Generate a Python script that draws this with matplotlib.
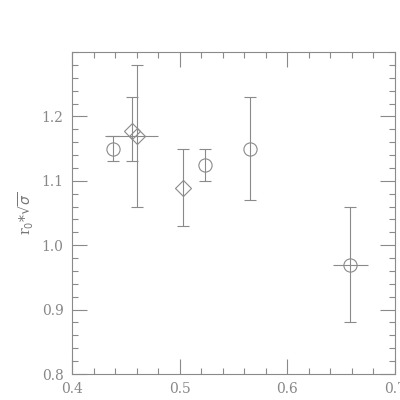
import matplotlib
matplotlib.use("Agg")
import matplotlib.pyplot as plt
from matplotlib.ticker import MultipleLocator

# circles
c_x = [0.438, 0.5235, 0.5655, 0.658]
c_y = [1.15, 1.125, 1.15, 0.97]
c_ylo = [1.13, 1.10, 1.07, 0.88]
c_yhi = [1.17, 1.15, 1.23, 1.06]
c_xlo = [0.438, 0.5235, 0.5655, 0.642]
c_xhi = [0.438, 0.5235, 0.5655, 0.675]

# diamonds
d_x = [0.4555, 0.460, 0.503]
d_y = [1.178, 1.17, 1.089]
d_ylo = [1.13, 1.06, 1.03]
d_yhi = [1.23, 1.28, 1.15]
d_xlo = [0.4555, 0.431, 0.503]
d_xhi = [0.4555, 0.480, 0.503]

gray = "#8a8a8a"
fig = plt.figure(figsize=(4, 4), dpi=100)
ax = fig.add_axes([0.18, 0.065, 0.8075, 0.805])

def draw(x, y, ylo, yhi, xlo, xhi, marker, ms):
    yerr = [[yy - l for yy, l in zip(y, ylo)], [h - yy for yy, h in zip(y, yhi)]]
    xerr = [[xx - l for xx, l in zip(x, xlo)], [h - xx for xx, h in zip(x, xhi)]]
    ax.errorbar(x, y, yerr=yerr, fmt="none", ecolor=gray, elinewidth=0.8,
                capsize=4.5, capthick=0.8)
    ax.errorbar(x, y, xerr=xerr, fmt="none", ecolor=gray, elinewidth=0.8,
                capsize=0)
    ax.plot(x, y, linestyle="none", marker=marker, ms=ms, mfc="none",
            mec=gray, mew=0.8)

draw(c_x, c_y, c_ylo, c_yhi, c_xlo, c_xhi, "o", 9.5)
draw(d_x, d_y, d_ylo, d_yhi, d_xlo, d_xhi, "D", 8)

ax.set_xlim(0.4, 0.7)
ax.set_ylim(0.8, 1.3)
ax.xaxis.set_major_locator(MultipleLocator(0.1))
ax.xaxis.set_minor_locator(MultipleLocator(0.02))
ax.yaxis.set_major_locator(MultipleLocator(0.1))
ax.yaxis.set_minor_locator(MultipleLocator(0.02))
ax.tick_params(which="both", direction="in", top=True, right=True,
               color=gray, labelcolor="#888888", labelsize=10, width=0.8)
ax.tick_params(which="major", length=11, pad=6)
ax.tick_params(which="minor", length=4.5)
ax.set_xticks([0.4, 0.5, 0.6, 0.7])
ax.set_xticklabels(["0.4", "0.5", "0.6", "0.7"], family="DejaVu Serif")
ax.set_yticks([0.8, 0.9, 1.0, 1.1, 1.2])
ax.set_yticklabels(["0.8", "0.9", "1.0", "1.1", "1.2"], family="DejaVu Serif")
for s in ax.spines.values():
    s.set_color(gray)
    s.set_linewidth(0.8)
ax.set_ylabel(r"r$_0$*$\sqrt{\sigma}$", color="#777777", fontsize=10,
              family="DejaVu Serif", labelpad=4)
fig.savefig("out.png", dpi=100)
